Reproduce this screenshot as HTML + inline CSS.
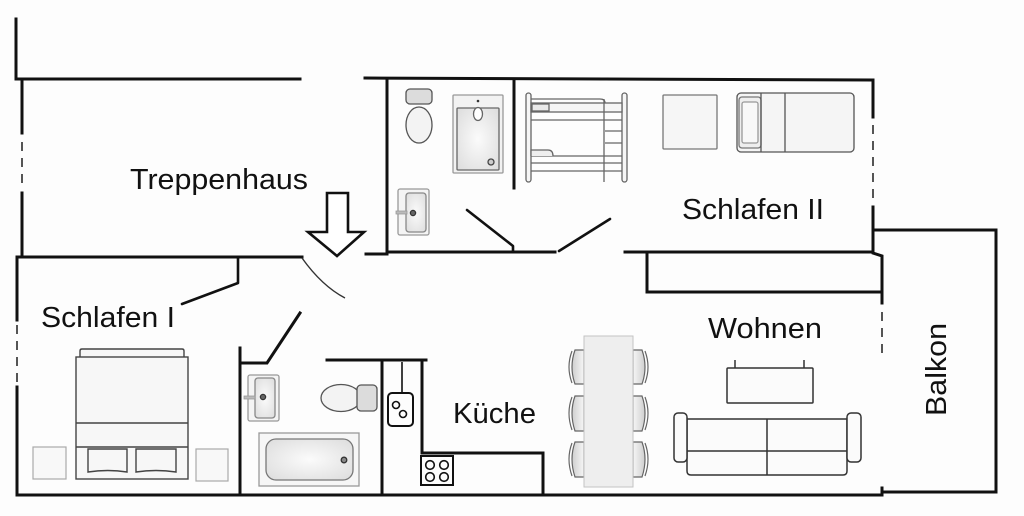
<!DOCTYPE html>
<html><head><meta charset="utf-8"><style>
html,body{margin:0;padding:0;background:#fdfdfd;}
svg{display:block;}
text{font-family:"Liberation Sans",Arial,sans-serif;font-size:29px;fill:#111;}
</style></head><body>
<svg width="1024" height="516" viewBox="0 0 1024 516" xmlns="http://www.w3.org/2000/svg">
<defs>
<linearGradient id="chl" x1="0" x2="1"><stop offset="0" stop-color="#cfcfcf"/><stop offset="1" stop-color="#f6f6f6"/></linearGradient>
<linearGradient id="chr" x1="1" x2="0"><stop offset="0" stop-color="#cfcfcf"/><stop offset="1" stop-color="#f6f6f6"/></linearGradient>
<radialGradient id="tub" cx="0.5" cy="0.5" r="0.7"><stop offset="0" stop-color="#fbfbfb"/><stop offset="1" stop-color="#dcdcdc"/></radialGradient>
</defs>
<rect width="1024" height="516" fill="#fdfdfd"/>

<!-- walls -->
<g fill="none" stroke="#111" stroke-width="3" stroke-linecap="square" stroke-linejoin="miter">
<path d="M16,19 V79 H300"/>
<path d="M22,79 V133"/>
<path d="M22,193 V257"/>
<path d="M17,257 H302"/>
<path d="M17,257 V320"/>
<path d="M17,387 V495 H882"/>
<path d="M365,78 L873,80 V117"/>
<path d="M873,207 V253 L882,256 V303"/>
<path d="M387,79 V254 H366"/>
<path d="M387,252 H555"/>
<path d="M514,80 V188"/>
<path d="M625,252 H873"/>
<path d="M647,253 V292 H882"/>
<path d="M875,230 H996 V492 H882 V488"/>
<path d="M240,348 V495"/>
<path d="M240,363 H267 L300,313"/>
<path d="M327,360 H426"/>
<path d="M382,360 V495"/>
<path d="M422,360 V453 H543 V495"/>
</g>
<g fill="none" stroke="#111" stroke-width="2.6" stroke-linecap="round" stroke-linejoin="round">
<path d="M238,257 V283 L182,304"/>
<path d="M467,210 L513,246 V252"/>
<path d="M559,251 L610,219"/>
</g>
<!-- dashed windows -->
<g stroke="#555" stroke-width="2" fill="none" stroke-dasharray="9,7">
<path d="M22,142 V186"/>
<path d="M17,325 V386"/>
<path d="M873,125 V205"/>
<path d="M882,312 V353"/>
</g>
<!-- door arc -->
<path d="M302,258 Q322,286 345,298" fill="none" stroke="#333" stroke-width="1.4"/>
<!-- arrow -->
<polygon points="327,193 348,193 348,232 364,232 337,256 308,232 327,232" fill="#fff" stroke="#111" stroke-width="2.6" stroke-linejoin="miter"/>

<!-- Top bathroom -->
<g stroke="#555" stroke-width="1.3">
<rect x="406" y="89" width="26" height="15" rx="4" fill="#dcdcdc"/>
<ellipse cx="419" cy="125" rx="13" ry="18" fill="#f3f3f3"/>
<rect x="453" y="95" width="50" height="78" rx="1" fill="#f2f2f2" stroke="#999"/>
<rect x="457" y="108" width="42" height="62" rx="1" fill="url(#tub)" stroke="#666"/>
<ellipse cx="478" cy="114" rx="4.5" ry="6.5" fill="#fff" stroke="#666"/>
<circle cx="491" cy="162" r="3" fill="#ccc" stroke="#444"/>
<rect x="398" y="189" width="31" height="46" rx="2" fill="#f4f4f4" stroke="#999"/>
<rect x="406" y="193" width="20" height="39" rx="3" fill="url(#tub)" stroke="#888"/>
<circle cx="413" cy="213" r="2.6" fill="#666" stroke="#333"/>
<rect x="396" y="211" width="11" height="3" fill="#bbb" stroke="#999" stroke-width="0.8"/>
</g>
<circle cx="478" cy="101" r="1.3" fill="#333"/>

<!-- Bunk bed -->
<g stroke="#666" stroke-width="1.3" fill="#f6f6f6">
<rect x="526" y="93" width="5" height="89" rx="2.5"/>
<rect x="622" y="93" width="5" height="89" rx="2.5"/>
<path d="M531,99 H600 Q605,99 605,103" fill="none"/>
<rect x="531" y="103" width="91" height="9"/>
<rect x="532" y="104" width="17" height="7" fill="#e9e9e9"/>
<path d="M531,120 H622 M531,156 H622 M531,163 H622 M531,171 H622" fill="none"/>
<path d="M531,156 V150 H548 Q553,150 553,156" fill="#eee"/>
<path d="M604,99 V182 M605,131 H622 M605,143 H622" fill="none"/>
</g>

<!-- Schlafen II furniture -->
<rect x="663" y="95" width="54" height="54" rx="1" fill="#f6f6f6" stroke="#777" stroke-width="1.3"/>
<g stroke="#555" stroke-width="1.3">
<rect x="737" y="93" width="117" height="59" rx="4" fill="#f5f5f5"/>
<rect x="739" y="97" width="22" height="51" rx="3" fill="#eee" stroke="#777"/>
<rect x="742" y="102" width="16" height="41" rx="2" fill="#f8f8f8" stroke="#999"/>
<path d="M761,93 V152 M785,93 V152" fill="none"/>
</g>

<!-- Schlafen I furniture -->
<g stroke="#444" stroke-width="1.4" fill="#f7f7f7">
<path d="M80,357 V351 Q80,349 82,349 H182 Q184,349 184,351 V357" />
<rect x="76" y="357" width="112" height="122"/>
<path d="M76,423 H188 M76,447 H188" fill="none"/>
<path d="M88,449 H127 V472 Q108,469 88,472 Z"/>
<path d="M136,449 H176 V472 Q156,469 136,472 Z"/>
</g>
<rect x="33" y="447" width="33" height="32" fill="#f8f8f8" stroke="#aaa" stroke-width="1.2"/>
<rect x="196" y="449" width="32" height="32" fill="#f8f8f8" stroke="#aaa" stroke-width="1.2"/>

<!-- Bottom bathroom -->
<g stroke="#555" stroke-width="1.3">
<rect x="248" y="375" width="31" height="46" rx="2" fill="#f4f4f4" stroke="#999"/>
<rect x="255" y="378" width="20" height="40" rx="3" fill="url(#tub)" stroke="#888"/>
<circle cx="263" cy="397" r="2.6" fill="#666" stroke="#333"/>
<rect x="244" y="396" width="11" height="3" fill="#bbb" stroke="#999" stroke-width="0.8"/>
<ellipse cx="341" cy="398" rx="20" ry="13.5" fill="#f3f3f3"/>
<rect x="357" y="385" width="20" height="26" rx="4" fill="#dcdcdc"/>
<rect x="259" y="433" width="100" height="53" fill="#f6f6f6" stroke="#999"/>
<rect x="266" y="439" width="87" height="41" rx="10" fill="url(#tub)" stroke="#777"/>
<circle cx="344" cy="460" r="2.8" fill="#888" stroke="#333"/>
</g>

<!-- Kitchen -->
<g fill="none" stroke="#111">
<path d="M402,362 V393" stroke-width="1.6"/>
<rect x="388" y="393" width="25" height="33" rx="4" stroke-width="2"/>
<circle cx="396" cy="405" r="3.5" stroke-width="1.6"/>
<circle cx="403" cy="414" r="3.5" stroke-width="1.6"/>
<rect x="421" y="456" width="32" height="29" stroke-width="2"/>
<circle cx="430" cy="465" r="4.3" stroke-width="1.6"/>
<circle cx="444" cy="465" r="4.3" stroke-width="1.6"/>
<circle cx="430" cy="477" r="4.3" stroke-width="1.6"/>
<circle cx="444" cy="477" r="4.3" stroke-width="1.6"/>
</g>

<!-- Dining -->
<g stroke="#666" stroke-width="1.2">
<path d="M584,350 H575 Q569,367 575,384 H584 Z" fill="url(#chl)"/>
<path d="M572,351 Q566,367 572,383" fill="none"/>
<path d="M584,396 H575 Q569,413 575,431 H584 Z" fill="url(#chl)"/>
<path d="M572,397 Q566,413 572,430" fill="none"/>
<path d="M584,442 H575 Q569,459 575,477 H584 Z" fill="url(#chl)"/>
<path d="M572,443 Q566,459 572,476" fill="none"/>
<path d="M633,350 H642 Q648,367 642,384 H633 Z" fill="url(#chr)"/>
<path d="M645,351 Q651,367 645,383" fill="none"/>
<path d="M633,396 H642 Q648,413 642,431 H633 Z" fill="url(#chr)"/>
<path d="M645,397 Q651,413 645,430" fill="none"/>
<path d="M633,442 H642 Q648,459 642,477 H633 Z" fill="url(#chr)"/>
<path d="M645,443 Q651,459 645,476" fill="none"/>
</g>
<rect x="584" y="336" width="49" height="151" fill="#eeeeee" stroke="#c4c4c4" stroke-width="1"/>

<!-- Living -->
<g fill="#fbfbfb" stroke="#333" stroke-width="1.5">
<path d="M735,360 V368 M804,360 V368" fill="none"/>
<rect x="727" y="368" width="86" height="35" rx="1"/>
<path d="M687,419 H847 V471 Q847,475 843,475 H691 Q687,475 687,471 Z"/>
<path d="M687,451 H847 M767,419 V475" fill="none"/>
<rect x="674" y="413" width="13" height="49" rx="4"/>
<rect x="847" y="413" width="14" height="49" rx="4"/>
</g>

<!-- Labels -->
<text x="130" y="189" textLength="178" lengthAdjust="spacingAndGlyphs">Treppenhaus</text>
<text x="682" y="219" textLength="142" lengthAdjust="spacingAndGlyphs">Schlafen II</text>
<text x="41" y="327" textLength="134" lengthAdjust="spacingAndGlyphs">Schlafen I</text>
<text x="453" y="423" textLength="83" lengthAdjust="spacingAndGlyphs">Küche</text>
<text x="708" y="338" textLength="114" lengthAdjust="spacingAndGlyphs">Wohnen</text>
<text transform="translate(946,416) rotate(-90)" x="0" y="0" textLength="93" lengthAdjust="spacingAndGlyphs">Balkon</text>
</svg>
</body></html>
